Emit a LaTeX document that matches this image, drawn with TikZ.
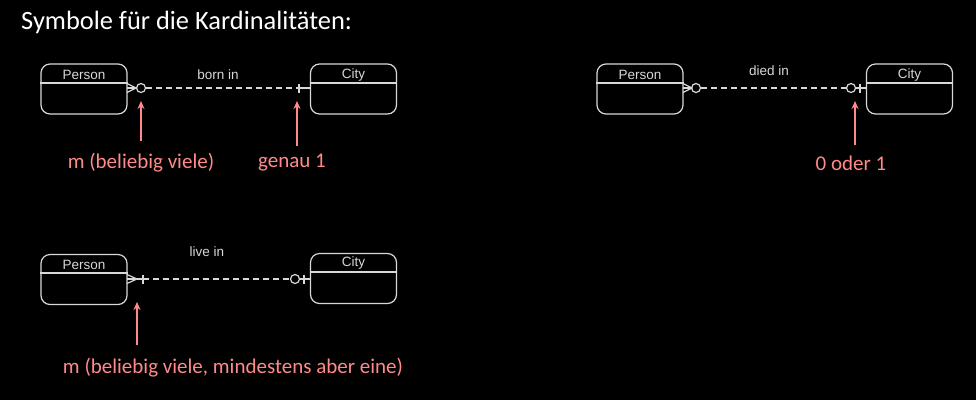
\documentclass[tikz,border=0pt]{standalone}
\usepackage{fontspec}
\usetikzlibrary{arrows.meta}
\setmainfont{Carlito}
\newfontfamily\erfont{Liberation Sans}
\definecolor{lineg}{HTML}{D8D8D8}
\definecolor{redc}{HTML}{FF8A8A}
\begin{document}
\begin{tikzpicture}[x=1pt,y=-1pt,
  entity/.style={draw=lineg,line width=1.2pt,rounded corners=9pt,minimum width=86pt,minimum height=50pt,inner sep=0pt},
  etext/.style={text=lineg,font=\erfont\fontsize{13.5}{15}\selectfont,inner sep=0pt},
  conn/.style={draw=lineg,line width=1.2pt},
  dconn/.style={draw=lineg,line width=1.2pt,dash pattern=on 6pt off 4pt},
  ring/.style={draw=lineg,line width=1.2pt,circle,minimum size=9pt,inner sep=0pt},
  redarrow/.style={draw=redc,line width=1.6pt,-{Stealth[length=8pt,width=7pt]}},
  redtext/.style={text=redc,font=\fontsize{21}{24}\selectfont,inner sep=0pt}
]
\fill[black] (0,0) rectangle (976,400);
\useasboundingbox (0,0) rectangle (976,400);

\node[anchor=west,text=white,font=\fontsize{26.4}{30}\selectfont,inner sep=0pt] (title) at (21,22) {Symbole für die Kardinalitäten:};

% ---------- born in ----------
\node[entity] (p1) at (84,89) {};
\draw[conn] (p1.west |- 0,83) -- (p1.east |- 0,83);
\node[etext] (p1t) at (84,75) {Person};
\node[entity] (c1) at (353.5,89) {};
\draw[conn] (c1.west |- 0,83) -- (c1.east |- 0,83);
\node[etext] (c1t) at (353.5,75) {City};
\node[ring] (r1) at (141,88) {};
\coordinate (k1) at (136,88);
\draw[conn] (127,83.5) -- (k1) -- (127,92.5);
\draw[conn] (127,88) -- (r1.west);
\coordinate (b1) at (299,88);
\draw[dconn] (r1.east) -- (b1);
\draw[conn] (299,83.5) -- (299,92.5);
\draw[conn] (b1) -- (c1.west |- b1);
\node[etext] (l1) at (218,75) {born in};

\coordinate (a1s) at (141,141);
\coordinate (a1e) at (141,101);
\draw[redarrow] (a1s) -- (a1e);
\coordinate (a2s) at (297,146);
\coordinate (a2e) at (297,101);
\draw[redarrow] (a2s) -- (a2e);
\node[redtext] (t1) at (141,163) {m (beliebig viele)};
\node[redtext] (t2) at (292,163) {genau 1};

% ---------- died in ----------
\node[entity] (p2) at (640,89) {};
\draw[conn] (p2.west |- 0,83) -- (p2.east |- 0,83);
\node[etext] (p2t) at (640,75) {Person};
\node[entity] (c2) at (909.5,89) {};
\draw[conn] (c2.west |- 0,83) -- (c2.east |- 0,83);
\node[etext] (c2t) at (909.5,75) {City};
\node[ring] (r2) at (696,88) {};
\coordinate (k2) at (692,88);
\draw[conn] (683,83.5) -- (k2) -- (683,92.5);
\draw[conn] (683,88) -- (r2.west);
\node[ring] (r3) at (851,88) {};
\draw[dconn] (r2.east) -- (r3.west);
\draw[conn] (r3.east) -- (c2.west |- r3);
\draw[conn] (860,83.5) -- (860,92.5);
\node[etext] (l2) at (769,71) {died in};
\coordinate (a3s) at (855,145);
\coordinate (a3e) at (855,101);
\draw[redarrow] (a3s) -- (a3e);
\node[redtext] (t3) at (851,163) {0 oder 1};

% ---------- live in ----------
\node[entity] (p3) at (84,279.5) {};
\draw[conn] (p3.west |- 0,273) -- (p3.east |- 0,273);
\node[etext] (p3t) at (84,265) {Person};
\node[entity] (c3) at (353.5,278.5) {};
\draw[conn] (c3.west |- 0,272) -- (c3.east |- 0,272);
\node[etext] (c3t) at (353.5,263) {City};
\coordinate (k3) at (137,279);
\draw[conn] (127,274.5) -- (k3) -- (127,283.5);
\draw[conn] (127,279) -- (143,279);
\draw[conn] (143,274.5) -- (143,283.5);
\node[ring] (r4) at (295,279) {};
\draw[dconn] (143,279) -- (r4.west);
\draw[conn] (r4.east) -- (c3.west |- r4);
\draw[conn] (304,274.5) -- (304,283.5);
\node[etext] (l3) at (207,252) {live in};
\coordinate (a4s) at (137,345);
\coordinate (a4e) at (137,302);
\draw[redarrow] (a4s) -- (a4e);
\node[redtext] (t4) at (233,368) {m (beliebig viele, mindestens aber eine)};
\end{tikzpicture}
\end{document}
